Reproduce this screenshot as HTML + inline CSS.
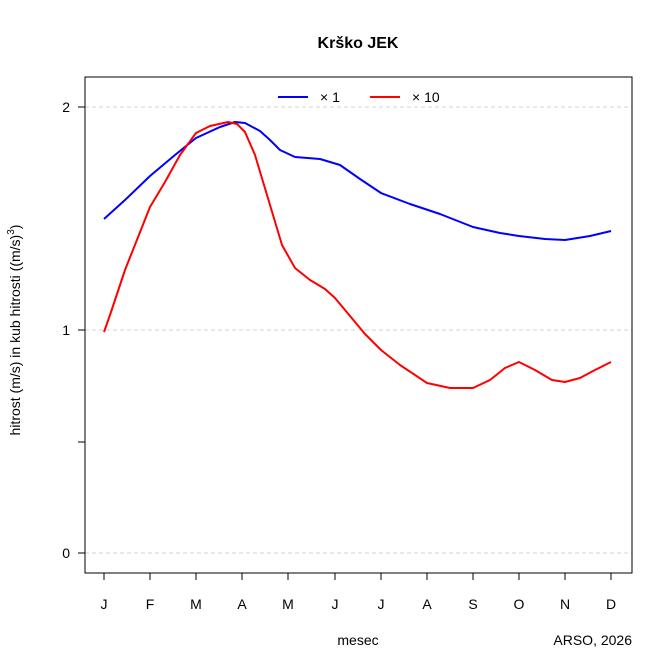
<!DOCTYPE html>
<html><head><meta charset="utf-8"><style>
html,body{margin:0;padding:0;background:#fff;}
svg{display:block;font-family:"Liberation Sans",Arial,sans-serif;}
</style></head><body>
<svg width="672" height="671" viewBox="0 0 672 671" xmlns="http://www.w3.org/2000/svg">
<rect width="672" height="671" fill="#fff"/>
<text x="358" y="48" text-anchor="middle" font-size="16" font-weight="bold">Krško JEK</text>
<!-- grid -->
<g stroke="#d3d3d3" stroke-dasharray="4,3" stroke-width="1">
<line x1="85" y1="107" x2="632" y2="107"/>
<line x1="85" y1="330" x2="632" y2="330"/>
<line x1="85" y1="553" x2="632" y2="553"/>
</g>
<rect x="85" y="77" width="547" height="496" fill="none" stroke="#000" stroke-width="1"/>
<!-- y ticks -->
<g stroke="#000">
<line x1="78" y1="107" x2="85" y2="107"/>
<line x1="78" y1="330" x2="85" y2="330"/>
<line x1="78" y1="442" x2="85" y2="442"/>
<line x1="78" y1="553" x2="85" y2="553"/>
</g>
<g font-size="14" text-anchor="end">
<text x="70" y="112">2</text>
<text x="70" y="335">1</text>
<text x="70" y="558">0</text>
</g>
<!-- x ticks -->
<g stroke="#000">
<line x1="104" y1="573" x2="104" y2="580"/><line x1="150" y1="573" x2="150" y2="580"/>
<line x1="196" y1="573" x2="196" y2="580"/><line x1="242" y1="573" x2="242" y2="580"/>
<line x1="288" y1="573" x2="288" y2="580"/><line x1="335" y1="573" x2="335" y2="580"/>
<line x1="381" y1="573" x2="381" y2="580"/><line x1="427" y1="573" x2="427" y2="580"/>
<line x1="473" y1="573" x2="473" y2="580"/><line x1="519" y1="573" x2="519" y2="580"/>
<line x1="565" y1="573" x2="565" y2="580"/><line x1="611" y1="573" x2="611" y2="580"/>
</g>
<g font-size="14" text-anchor="middle">
<text x="104" y="609">J</text><text x="150" y="609">F</text><text x="196" y="609">M</text>
<text x="242" y="609">A</text><text x="288" y="609">M</text><text x="335" y="609">J</text>
<text x="381" y="609">J</text><text x="427" y="609">A</text><text x="473" y="609">S</text>
<text x="519" y="609">O</text><text x="565" y="609">N</text><text x="611" y="609">D</text>
</g>
<text x="358" y="645" font-size="14" text-anchor="middle">mesec</text>
<text x="632" y="645" font-size="14" text-anchor="end">ARSO, 2026</text>
<text transform="translate(20,330) rotate(-90)" font-size="14" text-anchor="middle">hitrost (m/s) in kub hitrosti ((m/s)<tspan dy="-6" font-size="10">3</tspan><tspan dy="6">)</tspan></text>
<!-- series -->
<polyline fill="none" stroke="#0000ff" stroke-width="2" stroke-linejoin="round"
points="104,219 125,200 150,176 175,155 196,138 220,127 235,122 245,123 260,131 270,140 280,150 295,157 320,159 340,165 360,179 381,193 410,204 440,214 473,227 500,233 519,236 545,239 565,240 590,236 611,231"/>
<polyline fill="none" stroke="#ff0000" stroke-width="2" stroke-linejoin="round"
points="104,332 110,315 125,270 150,207 165,182 180,155 196,133 210,126 228,122 237,124 245,132 255,155 270,205 282,245 295,268 310,280 325,289 335,298 350,316 365,334 381,350 400,365 427,383 450,388 473,388 490,380 505,368 519,362 535,370 552,380 565,382 580,378 595,370 611,362"/>
<!-- legend -->
<line x1="278" y1="97" x2="308" y2="97" stroke="#0000ff" stroke-width="2"/>
<text x="320" y="102" font-size="14">× 1</text>
<line x1="370" y1="97" x2="400" y2="97" stroke="#ff0000" stroke-width="2"/>
<text x="412" y="102" font-size="14">×  10</text>
</svg>
</body></html>
